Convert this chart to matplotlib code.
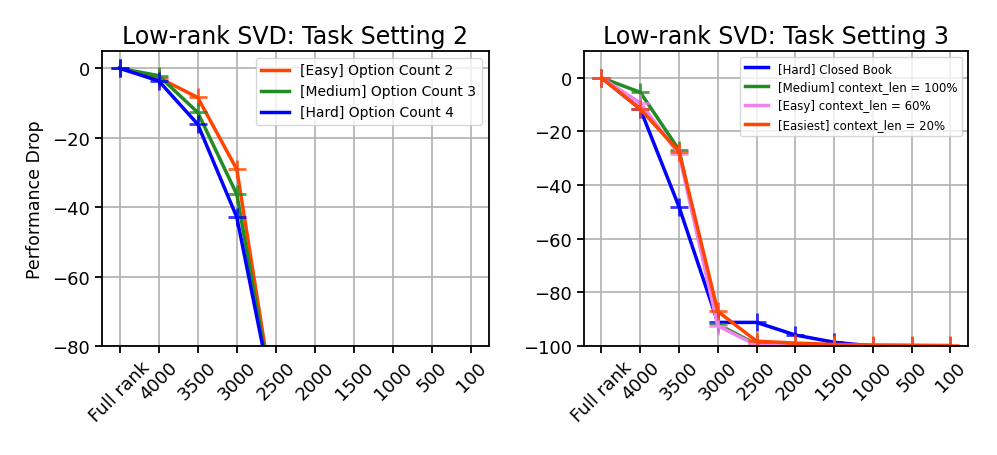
import matplotlib.pyplot as plt

ranks = ['Full rank', '4000', '3500', '3000', '2500', '2000', '1500', '1000', '500', '100']

# Task setting 2
easy2 = [0, -2.7, -8.4, -29.1, -100, -100, -100, -100, -100, -100]
medium2 = [0, -2.1, -12.7, -36.3, -100, -100, -100, -100, -100, -100]
hard2 = [0, -3.6, -16.1, -42.9, -99, -100, -100, -100, -100, -100]

# Task setting 3
hard3 = [0, -11.6, -48.1, -91.2, -91.2, -95.9, -98.6, -100, -100, -100]
medium3 = [0, -5.4, -26.9, -91.9, -99.4, -100, -100, -100, -100, -100]
easy3 = [0, -9.4, -28.5, -92.5, -99.7, -100, -100, -100, -100, -100]
easiest3 = [0, -11.6, -27.5, -87.1, -98.2, -98.9, -99.4, -99.6, -99.7, -99.8]

x = list(range(len(ranks)))

fig = plt.figure(figsize=(9.97, 4.56), dpi=100)
ax1 = fig.add_axes([0.1023, 0.239, 0.388, 0.647])
ax2 = fig.add_axes([0.5858, 0.239, 0.385, 0.647])


def draw(ax, y, color, label):
    # line carries the legend entry, markers drawn on top without label
    ax.plot(x, y, color=color, linewidth=2.5, label=label)
    ax.plot(x, y, color=color, linestyle='none', marker='+',
            markersize=13, markeredgewidth=2, alpha=0.8)


draw(ax1, easy2, 'orangered', '[Easy] Option Count 2')
draw(ax1, medium2, 'forestgreen', '[Medium] Option Count 3')
draw(ax1, hard2, 'blue', '[Hard] Option Count 4')
ax1.set_ylim(-80, 5)
ax1.set_title('Low-rank SVD: Task Setting 2', fontsize=17)
ax1.set_ylabel('Performance Drop', fontsize=12.5, labelpad=6)
ax1.legend(loc='upper right', fontsize=10)

draw(ax2, hard3, 'blue', '[Hard] Closed Book')
draw(ax2, medium3, 'forestgreen', '[Medium] context_len = 100%')
draw(ax2, easy3, 'violet', '[Easy] context_len = 60%')
draw(ax2, easiest3, 'orangered', '[Easiest] context_len = 20%')
ax2.set_ylim(-100, 10)
ax2.set_title('Low-rank SVD: Task Setting 3', fontsize=17)
ax2.legend(loc='upper right', fontsize=8.5)

for ax in (ax1, ax2):
    ax.set_xticks(x)
    ax.set_xticklabels(ranks, rotation=45, fontsize=13)
    ax.tick_params(axis='y', labelsize=13)
    ax.tick_params(length=5, width=1.3)
    ax.grid(True, linewidth=1.2)
    for s in ax.spines.values():
        s.set_linewidth(1.3)

fig.savefig('out.png', dpi=100)
